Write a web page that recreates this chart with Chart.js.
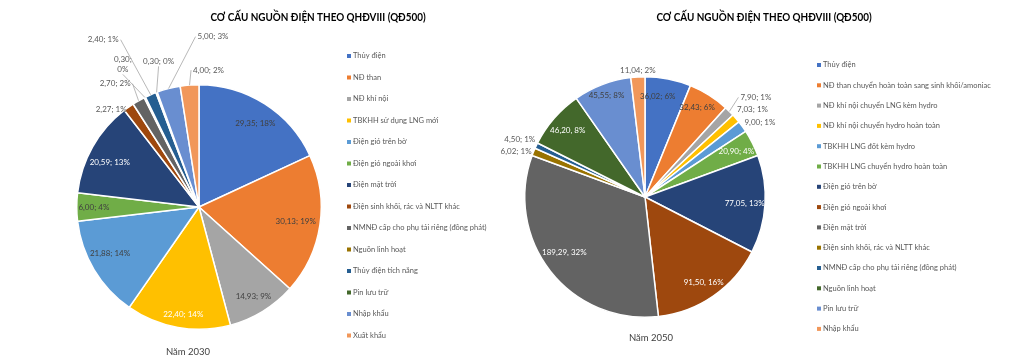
<!DOCTYPE html>
<html>
<head>
<meta charset="utf-8">
<script src="https://cdn.jsdelivr.net/npm/chart.js@4.4.1/dist/chart.umd.min.js"></script>
<style>
  html, body { margin: 0; padding: 0; background: #fff; }
  #wrap { position: relative; width: 1012px; height: 361px; }
  .box { position: absolute; top: 0; height: 361px; }
</style>
</head>
<body>
<div id="wrap">
  <div class="box" style="left:0;width:500px"><canvas id="c2030" width="500" height="361"></canvas></div>
  <div class="box" style="left:500px;width:512px"><canvas id="c2050" width="512" height="361"></canvas></div>
</div>
<script>
const TITLE = 'CƠ CẤU NGUỒN ĐIỆN THEO QHĐVIII (QĐ500)';

// Năm 2030
const labels2030 = [
  'Thủy điện', 'NĐ than', 'NĐ khí nội', 'TBKHH sử dụng LNG mới', 'Điện gió trên bờ',
  'Điện gió ngoài khơi', 'Điện mặt trời', 'Điện sinh khối, rác và NLTT khác',
  'NMNĐ cấp cho phụ tải riêng (đồng phát)', 'Nguồn linh hoạt', 'Thủy điện tích năng',
  'Pin lưu trữ', 'Nhập khẩu', 'Xuất khẩu'
];
const values2030 = [29.35, 30.13, 14.93, 22.40, 21.88, 6.00, 20.59, 2.27, 2.70, 0.30, 2.40, 0.30, 5.00, 4.00];
const pct2030 = [18, 19, 9, 14, 14, 4, 13, 1, 2, 0, 1, 0, 3, 2];

// Năm 2050
const labels2050 = [
  'Thủy điện', 'NĐ than chuyển hoàn toàn sang sinh khối/amoniac', 'NĐ khí nội chuyển LNG kèm hydro',
  'NĐ khí nội chuyển hydro hoàn toàn', 'TBKHH LNG đốt kèm hydro', 'TBKHH LNG chuyển hydro hoàn toàn',
  'Điện gió trên bờ', 'Điện gió ngoài khơi', 'Điện mặt trời', 'Điện sinh khối, rác và NLTT khác',
  'NMNĐ cấp cho phụ tải riêng (đồng phát)', 'Nguồn linh hoạt', 'Pin lưu trữ', 'Nhập khẩu'
];
const values2050 = [36.02, 32.43, 7.90, 7.03, 9.00, 20.90, 77.05, 91.50, 189.29, 6.02, 4.50, 46.20, 45.55, 11.04];
const pct2050 = [6, 6, 1, 1, 1, 4, 13, 16, 32, 1, 1, 8, 8, 2];

const colors = ['#4472C4', '#ED7D31', '#A5A5A5', '#FFC000', '#5B9BD5', '#70AD47', '#264478',
  '#9E480E', '#636363', '#997300', '#255E91', '#43682B', '#698ED0', '#F1975A'];

// label placement: f = fraction of radius along the slice middle, dx/dy nudge
const place2030 = [
  { f: 0.825, dx: 2, dy: 1, c: 'dark' },
  { f: 0.8, c: 'dark' },
  { f: 0.854, c: 'dark' },
  { f: 0.886, dx: 3, dy: 1, c: 'white' },
  { f: 0.82, dx: -3, dy: -5, c: 'dark' },
  { f: 0.86, c: 'dark' },
  { f: 0.82, dx: -2, dy: 5, c: 'white' },
  { f: 1, dx: -2, dy: 2, align: 'right' },
  { f: 1, dx: -8, dy: -17, align: 'right', leader: true },
  { f: 1, dx: -22, dy: -33, align: 'center', leader: true, wrap: true },
  { f: 1, dx: -32, dy: -55, align: 'right', leader: true },
  { f: 1, dx: 2, dy: -31, align: 'center', leader: true },
  { f: 1, dx: 29, dy: -52, align: 'left', leader: true },
  { f: 1, dx: 3.5, dy: -15, align: 'left', leader: true }
];
const place2050 = [
  { f: 0.85, dx: -7, c: 'dark' },
  { f: 0.86, dx: -3, dy: -2, c: 'dark' },
  { f: 1, dx: 11, dy: -14, align: 'left', leader: true },
  { f: 1, dx: 1, dy: -9, align: 'left' },
  { f: 1, dx: 2, dy: -4, align: 'left' },
  { f: 0.85, c: 'white' },
  { f: 0.83, c: 'white', sep: ', ' },
  { f: 0.86, c: 'white', sep: ', ' },
  { f: 0.81, dx: -4, dy: -5, c: 'white', sep: ', ' },
  { f: 1, dx: -2, dy: 0, align: 'right' },
  { f: 1, dx: -1, dy: -6, align: 'right' },
  { f: 0.85, c: 'white', sep: ', ' },
  { f: 0.9, c: 'dark' },
  { f: 1, dx: 0, dy: -7, align: 'center' }
];

const fmt = v => v.toFixed(2).replace('.', ',');
const textColor = { dark: '#404040', white: '#ffffff' };

const pieText = {
  id: 'pieText',
  afterDraw(chart, args, opts) {
    const ctx = chart.ctx;
    const vals = chart.data.datasets[0].data;
    const bg = chart.data.datasets[0].backgroundColor;
    ctx.save();
    ctx.textBaseline = 'middle';

    // data labels
    ctx.font = '8px Lato';
    chart.getDatasetMeta(0).data.forEach((arc, i) => {
      const p = arc.getProps(['x', 'y', 'startAngle', 'endAngle', 'outerRadius'], true);
      const L = opts.place[i];
      const a = (p.startAngle + p.endAngle) / 2;
      const r = p.outerRadius * L.f;
      const ax = p.x + Math.cos(a) * r;
      const ay = p.y + Math.sin(a) * r;
      const tx = ax + (L.dx || 0);
      const ty = ay + (L.dy || 0);
      const sep = L.sep || '; ';
      const lines = L.wrap ? [fmt(vals[i]) + ';', opts.pct[i] + '%'] : [fmt(vals[i]) + sep + opts.pct[i] + '%'];
      const align = L.align || 'center';
      if (L.leader) {
        let sx = tx, sy = ty;
        if (align === 'right') sx = tx + 2;
        else if (align === 'left') sx = tx - 2;
        else sy = ty + (lines.length * 10) / 2;
        ctx.strokeStyle = '#a6a6a6';
        ctx.lineWidth = 0.8;
        ctx.beginPath();
        ctx.moveTo(sx, sy);
        ctx.lineTo(ax, ay);
        ctx.stroke();
      }
      ctx.fillStyle = L.f < 1 ? textColor[L.c] : '#595959';
      ctx.textAlign = align;
      lines.forEach((s, k) => {
        ctx.fillText(s, tx, ty + (k - (lines.length - 1) / 2) * 10.5);
      });
    });

    // legend
    ctx.font = '7.5px Lato';
    ctx.textAlign = 'left';
    chart.data.labels.forEach((lab, i) => {
      const y = opts.legend.top + i * opts.legend.step;
      ctx.fillStyle = bg[i];
      ctx.fillRect(opts.legend.x, y - 2, 4, 4);
      ctx.fillStyle = '#595959';
      ctx.fillText(lab, opts.legend.x + 6, y);
    });

    // title (slightly condensed, like the original Calibri) and caption
    ctx.textAlign = 'center';
    ctx.fillStyle = '#000000';
    ctx.font = 'bold 11.5px Lato';
    ctx.save();
    ctx.translate(opts.titleX, 17.5);
    ctx.scale(0.86, 1);
    ctx.fillText(TITLE, 0, 0);
    ctx.restore();
    ctx.fillStyle = '#404040';
    ctx.font = '9.5px Lato';
    ctx.fillText(opts.caption, opts.captionX, opts.captionY);
    ctx.restore();
  }
};

function makePie(id, labels, values, pct, place, padding, extra) {
  return new Chart(document.getElementById(id), {
    type: 'pie',
    data: {
      labels: labels,
      datasets: [{
        data: values,
        backgroundColor: colors,
        borderColor: '#ffffff',
        borderWidth: 1.5
      }]
    },
    options: {
      responsive: false,
      animation: false,
      layout: { padding: padding },
      plugins: {
        legend: { display: false },
        tooltip: { enabled: false },
        pieText: Object.assign({ place: place, pct: pct }, extra)
      }
    },
    plugins: [pieText]
  });
}

makePie('c2030', labels2030, values2030, pct2030, place2030,
  { left: 76, right: 178, top: 84, bottom: 31 },
  { legend: { x: 347, top: 56, step: 21.5 }, titleX: 318, caption: 'Năm 2030', captionX: 188, captionY: 352 });

makePie('c2050', labels2050, values2050, pct2050, place2050,
  { left: 24, right: 246, top: 76, bottom: 43 },
  { legend: { x: 317, top: 65, step: 20.3 }, titleX: 264, caption: 'Năm 2050', captionX: 151, captionY: 338 });
</script>
</body>
</html>
